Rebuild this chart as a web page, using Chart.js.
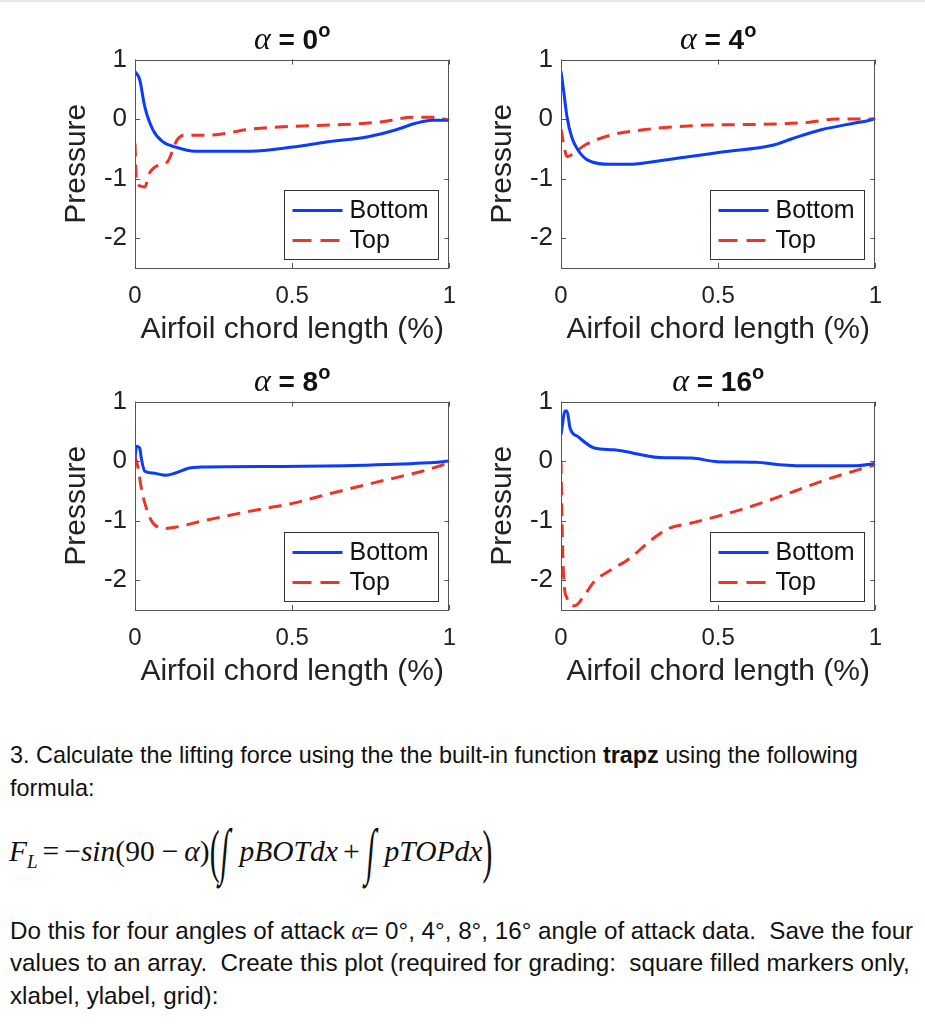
<!DOCTYPE html>
<html>
<head>
<meta charset="utf-8">
<script src="https://cdn.jsdelivr.net/npm/chart.js@4.4.1/dist/chart.umd.min.js"></script>
<style>
  body { margin: 0; background: #fff; width: 925px; height: 1024px; position: relative; overflow: hidden;
         font-family: "Liberation Sans", Arial, Helvetica, sans-serif; color: #111; }
  .topline { position: absolute; left: 0; top: 0; width: 925px; height: 2px; background: #e8e8e8; }
  canvas { position: absolute; }
  .para { position: absolute; left: 10px; white-space: nowrap; }
  .serif { font-family: "Liberation Serif", "Times New Roman", serif; font-style: italic; }
  #formula { position: absolute; left: 9px; top: 821px; font-family: "Liberation Serif", "Times New Roman", serif;
             font-size: 29.5px; white-space: nowrap; line-height: 60px; }
  #formula .tall { display: inline-block; transform: scale(1, 2.0); font-style: normal; }
  #formula .int { display: inline-block; transform: scale(1, 2.1) skewX(-10deg); margin: 0 10px 0 2px; }
  #formula sub { font-size: 19px; }
  #formula .op { margin: 0 5px; }
  #formula .op2 { margin: 0 6px 0 7px; }
</style>
</head>
<body>
<div class="topline"></div>
<canvas id="c0" width="470" height="360" style="left:0px;top:0px"></canvas>
<canvas id="c4" width="470" height="360" style="left:426px;top:0px"></canvas>
<canvas id="c8" width="470" height="360" style="left:0px;top:342px"></canvas>
<canvas id="c16" width="470" height="360" style="left:426px;top:342px"></canvas>

<div class="para" style="top:739px;line-height:33px;font-size:23.4px">3. Calculate the lifting force using the the built-in function <b>trapz</b> using the following<br>formula:</div>

<div id="formula"><i>F</i><sub><i>L</i></sub><span class="op">=</span>−<i>sin</i>(90<span class="op2">−</span><i>α</i>)<span class="tall">(</span><span class="int">∫</span><i>pBOTdx</i><span class="op">+</span><span class="int">∫</span><i>pTOPdx</i><span class="tall">)</span></div>

<div class="para" style="top:915px;line-height:32.3px;font-size:24.2px">Do this for four angles of attack <span class="serif">α</span>= 0°, 4°, 8°, 16° angle of attack data.&nbsp; Save the four<br>values to an array.&nbsp; Create this plot (required for grading:&nbsp; square filled markers only,<br>xlabel, ylabel, grid):</div>

<script>
// chord positions (x) and pressure values
const xBot0 = [0, 0.015, 0.031, 0.057, 0.088, 0.129, 0.191, 0.367, 0.501, 0.614, 0.738, 0.831, 0.893, 0.945, 1.0];
const pBot0 = [0.80, 0.66, 0.21, -0.18, -0.38, -0.47, -0.54, -0.54, -0.47, -0.38, -0.30, -0.18, -0.07, -0.02, -0.02];
const xTop0 = [0, 0.005, 0.031, 0.046, 0.077, 0.103, 0.134, 0.16, 0.232, 0.367, 0.47, 0.625, 0.78, 0.883, 0.945, 1.0];
const pTop0 = [-0.41, -1.08, -1.14, -0.91, -0.77, -0.72, -0.35, -0.27, -0.27, -0.17, -0.13, -0.10, -0.05, 0.03, 0.03, -0.02];

const xBot4 = [0, 0.008, 0.019, 0.034, 0.054, 0.085, 0.158, 0.209, 0.364, 0.518, 0.673, 0.735, 0.828, 0.931, 0.982, 1.0];
const pBot4 = [0.80, 0.49, 0.04, -0.30, -0.52, -0.69, -0.76, -0.76, -0.66, -0.55, -0.44, -0.33, -0.18, -0.07, -0.02, 0.01];
const xTop4 = [0, 0.008, 0.019, 0.039, 0.075, 0.158, 0.261, 0.364, 0.467, 0.621, 0.776, 0.879, 1.0];
const pTop4 = [-0.17, -0.41, -0.63, -0.58, -0.44, -0.27, -0.18, -0.13, -0.10, -0.09, -0.06, 0.0, 0.0];

const xBot8 = [0, 0.005, 0.015, 0.02, 0.031, 0.057, 0.098, 0.129, 0.17, 0.212, 0.47, 0.728, 0.933, 1.0];
const pBot8 = [0.05, 0.25, 0.22, 0.05, -0.17, -0.20, -0.24, -0.20, -0.12, -0.10, -0.09, -0.07, -0.03, 0.0];
const xTop8 = [0, 0.01, 0.02, 0.036, 0.057, 0.098, 0.129, 0.212, 0.367, 0.501, 0.625, 0.78, 0.914, 1.0];
const pTop8 = [0.08, -0.12, -0.45, -0.79, -1.04, -1.13, -1.11, -1.01, -0.84, -0.71, -0.54, -0.34, -0.17, -0.03];

const xBot16 = [0, 0.013, 0.019, 0.029, 0.054, 0.106, 0.168, 0.312, 0.415, 0.498, 0.622, 0.694, 0.807, 0.931, 1.0];
const pBot16 = [0.44, 0.84, 0.84, 0.55, 0.41, 0.22, 0.19, 0.06, 0.05, -0.01, -0.02, -0.06, -0.08, -0.08, -0.04];
const xTop16 = [0, 0.003, 0.008, 0.019, 0.044, 0.075, 0.106, 0.158, 0.22, 0.281, 0.343, 0.415, 0.57, 0.725, 0.828, 1.0];
const pTop16 = [0.0, -0.96, -1.91, -2.30, -2.43, -2.25, -2.02, -1.83, -1.63, -1.35, -1.13, -1.04, -0.82, -0.54, -0.34, -0.06];

const xTicks = [0, 0.5, 1];
const yTicks = [-2, -1, 0, 1];
const seriesNames = ['Bottom', 'Top'];

const FONT = '"Liberation Sans", Arial, Helvetica, sans-serif';
const TEXT = '#222';
const EDGE = '#555';
Chart.defaults.font.family = FONT;

function pts(xs, ys) {
    return xs.map((x, i) => ({x: x, y: ys[i]}));
}

// MATLAB-like frame: full box, inward ticks, legend in lower right, alpha title
const matlabFrame = {
    id: 'matlabFrame',
    afterDatasetsDraw(chart, args, opts) {
        const {ctx, chartArea: a, scales: {x, y}} = chart;
        ctx.save();
        ctx.strokeStyle = EDGE;
        ctx.lineWidth = 1;
        ctx.setLineDash([]);
        ctx.strokeRect(Math.round(a.left) + 0.5, Math.round(a.top) + 0.5,
            Math.round(a.width) - 1, Math.round(a.height) - 1);
        ctx.beginPath();
        x.ticks.forEach(t => {
            const px = Math.round(x.getPixelForValue(t.value)) + 0.5;
            ctx.moveTo(px, a.bottom); ctx.lineTo(px, a.bottom - 5);
            ctx.moveTo(px, a.top); ctx.lineTo(px, a.top + 5);
        });
        y.ticks.forEach(t => {
            const py = Math.round(y.getPixelForValue(t.value)) + 0.5;
            ctx.moveTo(a.left, py); ctx.lineTo(a.left + 5, py);
            ctx.moveTo(a.right, py); ctx.lineTo(a.right - 5, py);
        });
        ctx.stroke();

        // legend box
        const w = 154, h = 69;
        const bx = Math.round(a.right - 11 - w) + 0.5, by = Math.round(a.bottom - 9 - h) + 0.5;
        ctx.fillStyle = '#fff';
        ctx.fillRect(bx, by, w, h);
        ctx.strokeStyle = '#333';
        ctx.strokeRect(bx, by, w, h);
        ctx.font = '25px ' + FONT;
        ctx.textBaseline = 'middle';
        ctx.fillStyle = '#111';
        chart.data.datasets.forEach((ds, i) => {
            const ry = by + 20 + i * 30;
            ctx.strokeStyle = ds.borderColor;
            ctx.lineWidth = ds.borderWidth;
            ctx.setLineDash(ds.borderDash ? [19, 9] : []);
            ctx.beginPath();
            ctx.moveTo(bx + 8, ry); ctx.lineTo(bx + 58, ry);
            ctx.stroke();
            ctx.fillText(ds.label, bx + 65, ry + 1);
        });
        ctx.restore();
    },
    afterDraw(chart, args, opts) {
        const {ctx, chartArea: a} = chart;
        const parts = [
            {t: 'α', f: 'italic 32px "Liberation Serif", serif', dy: 0},
            {t: ' = ' + opts.angle, f: 'bold 28px ' + FONT, dy: 0},
            {t: 'o', f: 'bold 20px ' + FONT, dy: -12}
        ];
        ctx.save();
        ctx.fillStyle = '#111';
        ctx.textBaseline = 'alphabetic';
        let total = 0;
        parts.forEach(p => { ctx.font = p.f; p.w = ctx.measureText(p.t).width; total += p.w; });
        let cx = (a.left + a.right) / 2 - total / 2;
        parts.forEach(p => {
            ctx.font = p.f;
            ctx.fillText(p.t, cx, 49 + p.dy);
            cx += p.w;
        });
        ctx.restore();
    }
};

function makeChart(id, angle, xb, pb, xt, pt) {
    const ctx = document.getElementById(id).getContext('2d');
    return new Chart(ctx, {
        type: 'line',
        data: {
            datasets: [
                {
                    label: seriesNames[0],
                    data: pts(xb, pb),
                    borderColor: '#0a3cff',
                    borderWidth: 3,
                    pointRadius: 0,
                    cubicInterpolationMode: 'monotone'
                },
                {
                    label: seriesNames[1],
                    data: pts(xt, pt),
                    borderColor: '#ef3327',
                    borderWidth: 3,
                    borderDash: [13, 8],
                    pointRadius: 0,
                    cubicInterpolationMode: 'monotone'
                }
            ]
        },
        options: {
            responsive: false,
            animation: false,
            layout: { padding: { left: 0, right: 12, top: 59.5, bottom: 0 } },
            plugins: {
                legend: { display: false },
                title: { display: false },
                tooltip: { enabled: false },
                matlabFrame: { angle: angle }
            },
            scales: {
                x: {
                    type: 'linear',
                    min: 0,
                    max: 1,
                    grid: { display: false, drawTicks: false },
                    border: { display: false },
                    afterBuildTicks: s => { s.ticks = xTicks.map(v => ({ value: v })); },
                    afterFit: s => { s.height = 92; },
                    ticks: { padding: 14, color: TEXT, font: { size: 24 }, maxRotation: 0, autoSkip: false,
                             callback: v => String(v) },
                    title: { display: true, text: 'Airfoil chord length (%)', color: TEXT,
                             font: { size: 30 }, padding: { top: 0, bottom: 12 } }
                },
                y: {
                    min: -2.5,
                    max: 1,
                    grid: { display: false, drawTicks: false },
                    border: { display: false },
                    afterBuildTicks: s => { s.ticks = yTicks.map(v => ({ value: v })); },
                    afterFit: s => { s.width = 135; },
                    ticks: { padding: 8, color: TEXT, font: { size: 26 }, callback: v => String(v) },
                    title: { display: true, text: 'Pressure', color: TEXT,
                             font: { size: 30 }, padding: { top: 59, bottom: 0 } }
                }
            }
        },
        plugins: [matlabFrame]
    });
}

makeChart('c0', 0, xBot0, pBot0, xTop0, pTop0);
makeChart('c4', 4, xBot4, pBot4, xTop4, pTop4);
makeChart('c8', 8, xBot8, pBot8, xTop8, pTop8);
makeChart('c16', 16, xBot16, pBot16, xTop16, pTop16);
</script>
</body>
</html>
